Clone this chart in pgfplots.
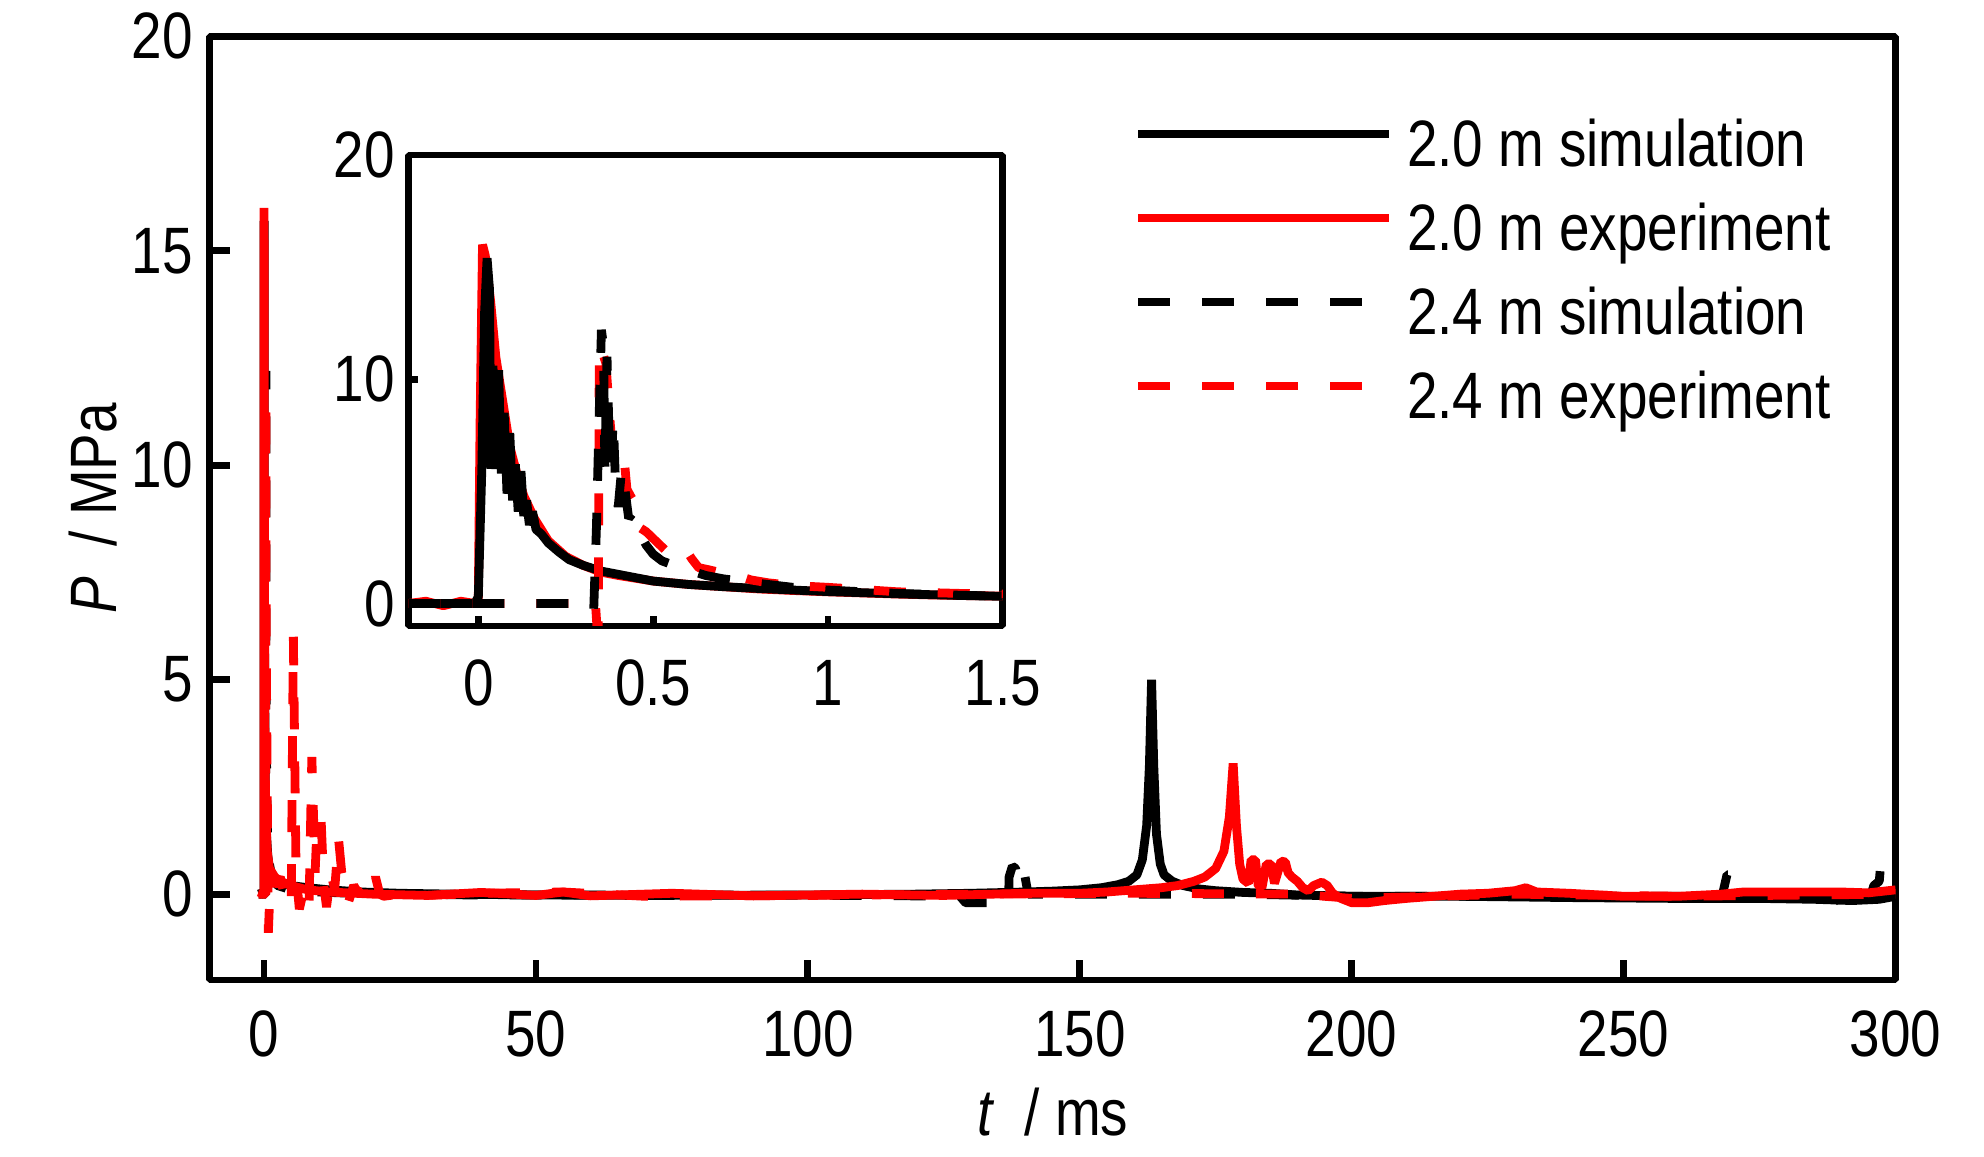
\documentclass[border=0pt]{standalone}
\usepackage{fontspec}
\setmainfont[FakeStretch=0.836]{Liberation Sans}
\usepackage{pgfplots}
\pgfplotsset{compat=1.18}
\begin{document}
\fontsize{16.4pt}{20pt}\selectfont
\begin{tikzpicture}
\begin{axis}[
  at={(0,0)}, anchor=south west,
  scale only axis, width=421.5pt, height=235.9pt,
  xmin=-10, xmax=300, ymin=-2, ymax=20,
  xtick={0,50,...,300}, ytick={0,5,...,20},
  tick align=inside, tick pos=left,
  major tick length=5pt,
  every tick/.style={black, line width=1.7pt},
  axis line style={line width=1.7pt},
  /pgf/number format/assume math mode=true,
  xticklabel style={anchor=base, yshift=-19.25pt, inner sep=0pt},
  yticklabel style={anchor=east, xshift=-4pt, inner sep=0pt},
  xlabel={\textit{t}~~/ ms}, ylabel={\textit{P}~~/ MPa},
  every axis x label/.style={at={(axis description cs:0.5,-0.1653)}, anchor=base},
  every axis y label/.style={at={(axis description cs:-0.055,0.5)}, rotate=90, anchor=base},
  legend style={at={(rel axis cs:0.5483,0.9135)}, anchor=north west, draw=none, fill=none,
    inner sep=0pt, outer sep=0pt, row sep=5.4pt, column sep=3.4pt,
    nodes={inner sep=0pt, text height=12.2pt, text depth=3.4pt}},
  legend cell align=left,
  legend image code/.code={\draw[#1] (0pt,3.8pt) -- (62.75pt,3.8pt);},
  line join=bevel,
]
\addlegendimage{black, line width=2.1pt, solid}
\addlegendentry{2.0 m simulation}
\addlegendimage{red, line width=2.1pt, solid}
\addlegendentry{2.0 m experiment}
\addlegendimage{black, line width=2.1pt, dash pattern=on 8pt off 8pt}
\addlegendentry{2.4 m simulation}
\addlegendimage{red, line width=2.1pt, dash pattern=on 8pt off 8pt}
\addlegendentry{2.4 m experiment}

% 2.0 m simulation
\addplot[forget plot, black, line width=2.2pt] coordinates {
(-1,0) (-0.5,0.02) (0,0) (0.01,3) (0.022,15.7) (0.05,9) (0.1,6) (0.2,3) (0.4,1.5) (0.7,0.9) (1,0.6) (1.5,0.4) (2,0.3) (3,0.25) (5,0.2) (8,0.15) (12,0.1) (18,0.05) (25,0.02) (35,0) (50,-0.02) (70,-0.03) (100,-0.02) (120,0) (130,0.02) (140,0.05) (145,0.07) (150,0.1) (154,0.15) (157,0.22) (159,0.3) (160.5,0.45) (161.5,0.8) (162.3,1.6) (162.8,3) (163.2,5.0) (163.6,3) (164.1,1.4) (164.8,0.7) (165.5,0.45) (167,0.3) (169,0.2) (172,0.12) (175,0.08) (180,0.04) (185,0.02) (190,-0.02) (200,-0.05) (220,-0.05) (240,-0.08) (260,-0.1) (275,-0.1) (285,-0.12) (292,-0.15) (297,-0.12) (300,-0.05)
};
% 2.4 m simulation
\addplot[forget plot, black, line width=2.2pt, dash pattern=on 8pt off 8pt] coordinates {
(-1,0) (0,0) (0.32,0) (0.34,5) (0.353,12.2) (0.37,7) (0.4,5) (0.5,2.5) (0.7,1.2) (1,0.7) (1.5,0.4) (2.5,0.2) (5,0.1) (10,0.05) (20,0) (40,-0.02) (80,-0.02) (110,-0.03) (128,-0.05) (129,-0.2) (136.9,-0.2) (137,0.4) (137.6,0.65) (138.2,0.6) (138.6,0.3) (139,0.55) (139.8,0.5) (140.5,0) (145,0) (160,0) (180,0) (200,-0.05) (230,-0.05) (260,-0.05) (268,-0.1) (269,0.45) (270.5,0.45) (271,0.35) (272.5,0.35) (273,0) (280,-0.08) (289,-0.1) (290,-0.2) (295,-0.2) (296,0.2) (297,0.3) (297.3,0.75) (298,0.6) (299,0.5) (300,0.5)
};
% 2.0 m experiment
\addplot[forget plot, red, line width=2.2pt] coordinates {
(-1,0.05) (0,0) (0.005,8) (0.015,16.0) (0.04,13) (0.08,7.6) (0.15,4) (0.3,2) (0.6,1) (1,0.6) (2,0.4) (3,0.3) (5,0.2) (8,0.1) (12,0.05) (20,0) (30,-0.03) (40,0.04) (50,-0.03) (55,0.05) (60,-0.04) (75,0.02) (90,-0.04) (110,0) (125,-0.03) (140,0.02) (150,0.02) (155,0.05) (160,0.1) (165,0.15) (168,0.2) (171,0.3) (173,0.4) (175,0.6) (176.5,1.0) (177.5,1.8) (178.2,3.05) (178.8,1.6) (179.4,0.7) (180,0.35) (181,0.25) (181.5,0.8) (182.3,0.8) (182.8,0.2) (183.5,0.15) (184.3,0.7) (185.2,0.7) (185.8,0.25) (186.5,0.55) (187,0.77) (187.8,0.75) (188.3,0.5) (189,0.4) (190,0.3) (191,0.15) (192,0.08) (193,0.2) (194.5,0.28) (195.5,0.2) (196.5,0.02) (198,-0.1) (200,-0.2) (203,-0.2) (206,-0.15) (210,-0.1) (215,-0.05) (220,0) (225,0.02) (230,0.08) (232,0.15) (234,0.05) (240,0.02) (250,-0.05) (260,-0.05) (268,0) (272,0.05) (280,0.05) (290,0.05) (295,0.03) (300,0.1)
};
% 2.4 m experiment
\addplot[forget plot, red, line width=2.2pt, dash pattern=on 8pt off 8pt] coordinates {
(-1,0) (0,0) (0.33,0) (0.34,11.5) (0.4,6) (0.6,2.4) (0.8,-0.9) (1.2,0.4) (2,0.2) (3,0.4) (4,-0.2) (5,-0.3) (5.4,6.0) (5.9,0.5) (6.5,-0.35) (7.5,0.2) (8.3,-0.2) (8.8,3.2) (9.4,0.5) (9.8,1.75) (10.5,1.75) (11,0.2) (11.5,-0.3) (12.3,0.5) (13,0.1) (13.7,1.3) (14.3,0.5) (15,0.1) (15.5,-0.2) (16.5,0.2) (17.5,0) (18.5,0.1) (19.5,-0.1) (20.5,0.4) (21.3,0) (22,-0.05) (25,0) (30,-0.03) (40,0.02) (55,0.05) (70,-0.05) (100,-0.03) (130,0) (160,0.02) (190,0) (200,-0.1) (230,0) (260,-0.05) (300,0)
};
\end{axis}

\begin{axis}[
  at={(49.7pt,88.5pt)}, anchor=south west,
  scale only axis, width=148.6pt, height=117.75pt,
  xmin=-0.2, xmax=1.5, ymin=-1, ymax=20,
  xtick={0,0.5,1,1.5}, ytick={0,10,20},
  tick align=inside, tick pos=left,
  major tick length=2.5pt,
  every tick/.style={black, line width=1.7pt},
  axis line style={line width=1.7pt},
  axis background/.style={fill=white},
  /pgf/number format/assume math mode=true,
  xticklabel style={anchor=base, yshift=-19.8pt, inner sep=0pt},
  yticklabel style={anchor=east, xshift=-3.2pt, inner sep=0pt},
  line join=bevel,
]
% 2.0 m experiment
\addplot[red, line width=2.2pt] coordinates {
(-0.2,0) (-0.15,0.1) (-0.1,-0.1) (-0.05,0.1) (-0.01,0) (0,0.2) (0.005,8) (0.012,16.0) (0.02,15.5) (0.035,13.5) (0.05,11) (0.07,9) (0.09,7.0) (0.11,5.8) (0.13,4.8) (0.16,3.8) (0.2,2.8) (0.25,2.1) (0.3,1.7) (0.35,1.4) (0.4,1.25) (0.5,1.0) (0.6,0.85) (0.7,0.75) (0.8,0.65) (0.9,0.58) (1.0,0.52) (1.1,0.47) (1.2,0.42) (1.3,0.38) (1.4,0.35) (1.5,0.33)
};
% 2.0 m simulation
\addplot[black, line width=2.2pt] coordinates {
(-0.2,0) (-0.01,0) (0.0,0.3) (0.01,6) (0.018,13) (0.025,15.4) (0.032,14) (0.036,6) (0.042,10.6) (0.05,6.0) (0.058,10.4) (0.066,5.8) (0.074,8.5) (0.082,4.9) (0.09,7.6) (0.098,4.6) (0.106,6.2) (0.114,4.1) (0.122,5.9) (0.13,3.9) (0.138,4.6) (0.146,3.5) (0.155,4.1) (0.165,3.3) (0.18,3.1) (0.2,2.7) (0.23,2.3) (0.26,1.95) (0.3,1.7) (0.35,1.45) (0.4,1.3) (0.5,1.0) (0.6,0.85) (0.7,0.75) (0.8,0.67) (0.9,0.6) (1.0,0.53) (1.1,0.48) (1.2,0.43) (1.3,0.39) (1.4,0.35) (1.5,0.32)
};
% 2.4 m experiment
\addplot[red, line width=2.2pt, dash pattern=on 8pt off 8pt] coordinates {
(-0.2,0) (0.335,0) (0.34,-1.2) (0.343,-1.2) (0.346,11.5) (0.355,11.2) (0.365,10.7) (0.375,8.5) (0.382,7.1) (0.39,6.5) (0.4,6.3) (0.41,6.6) (0.418,6.3) (0.425,5.1) (0.435,4.8) (0.447,4.5) (0.46,3.4) (0.48,3.2) (0.5,2.9) (0.52,2.6) (0.54,2.3) (0.56,2.5) (0.59,2.5) (0.61,2.0) (0.63,1.6) (0.66,1.5) (0.7,1.35) (0.74,1.25) (0.78,1.05) (0.83,0.92) (0.9,0.8) (0.95,0.76) (1.0,0.72) (1.05,0.67) (1.1,0.62) (1.2,0.52) (1.3,0.48) (1.4,0.44) (1.5,0.42)
};
% 2.4 m simulation
\addplot[black, line width=2.2pt, dash pattern=on 8pt off 8pt] coordinates {
(-0.2,0) (0.325,0) (0.33,-0.3) (0.338,3.5) (0.345,8) (0.352,12.2) (0.358,11.5) (0.362,6.0) (0.368,11.0) (0.374,7.5) (0.38,6.2) (0.386,8.2) (0.392,5.5) (0.4,4.3) (0.41,6.0) (0.42,5.0) (0.43,3.8) (0.44,4.0) (0.46,3.2) (0.48,2.6) (0.5,2.2) (0.525,1.9) (0.56,1.7) (0.6,1.5) (0.65,1.25) (0.7,1.1) (0.8,0.9) (0.9,0.72) (1.0,0.6) (1.1,0.52) (1.2,0.45) (1.3,0.4) (1.4,0.36) (1.5,0.32)
};
\end{axis}
\pgfresetboundingbox
\path (-52.4pt,-44.25pt) rectangle (443.6pt,244.98pt);
\end{tikzpicture}
\end{document}
